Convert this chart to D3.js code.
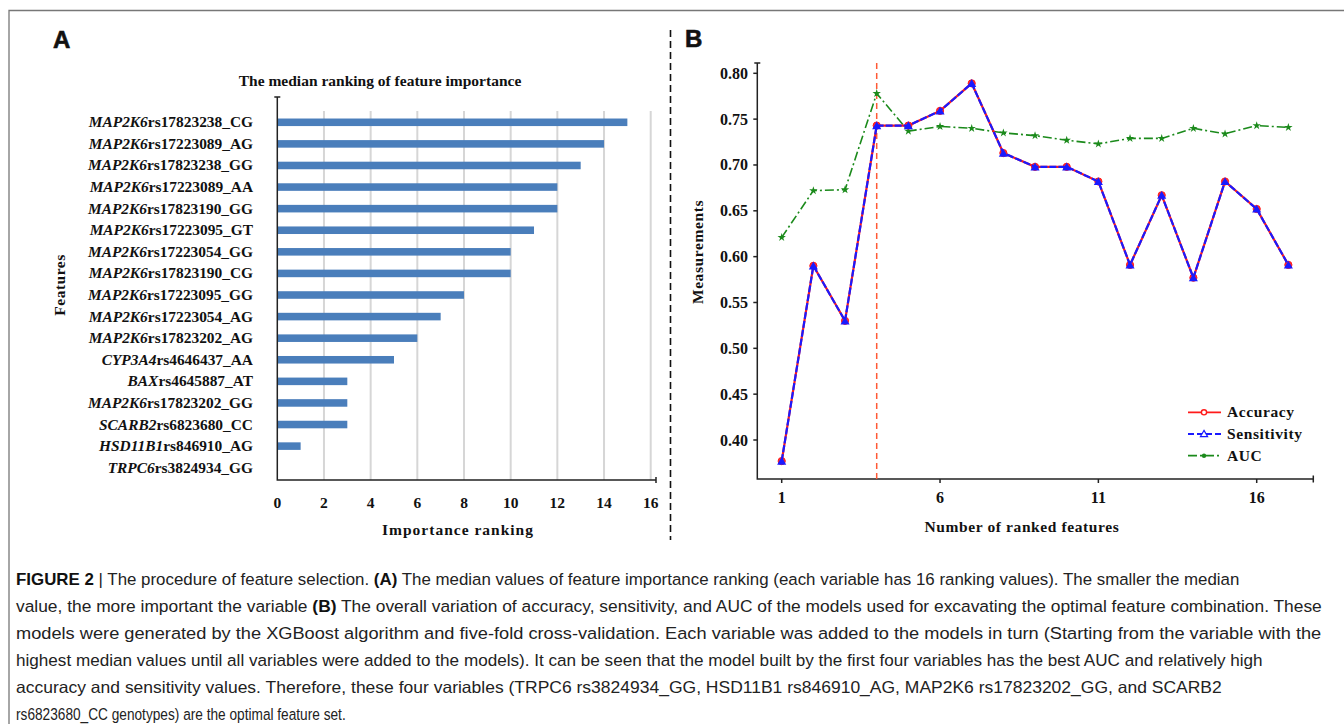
<!DOCTYPE html>
<html>
<head>
<meta charset="utf-8">
<script src="https://cdn.jsdelivr.net/npm/d3@7"></script>
<style>
  body { margin: 0; background: #fff; }
  svg { display: block; }
  .serif { font-family: "Liberation Serif", "Times New Roman", serif; font-weight: bold; fill: #111; }
  .caption { font-family: "Liberation Sans", Arial, sans-serif; font-size: 16.5px; fill: #222; }
</style>
</head>
<body>
<svg id="fig" width="1344" height="724"></svg>
<script>
// ---- panel A data ----
const genes = ['MAP2K6', 'MAP2K6', 'MAP2K6', 'MAP2K6', 'MAP2K6', 'MAP2K6', 'MAP2K6', 'MAP2K6',
  'MAP2K6', 'MAP2K6', 'MAP2K6', 'CYP3A4', 'BAX', 'MAP2K6', 'SCARB2', 'HSD11B1', 'TRPC6'];
const snps = ['rs17823238_CG', 'rs17223089_AG', 'rs17823238_GG', 'rs17223089_AA', 'rs17823190_GG',
  'rs17223095_GT', 'rs17223054_GG', 'rs17823190_CG', 'rs17223095_GG', 'rs17223054_AG',
  'rs17823202_AG', 'rs4646437_AA', 'rs4645887_AT', 'rs17823202_GG', 'rs6823680_CC',
  'rs846910_AG', 'rs3824934_GG'];
const ranking = [15, 14, 13, 12, 12, 11, 10, 10, 8, 7, 6, 5, 3, 3, 3, 1, 0];
const rankTicks = [0, 2, 4, 6, 8, 10, 12, 14, 16];

// ---- panel B data ----
const nFeatures = d3.range(1, 18);
const accuracy = [0.377, 0.590, 0.530, 0.743, 0.743, 0.759, 0.789, 0.713, 0.698, 0.698,
  0.682, 0.591, 0.667, 0.577, 0.682, 0.652, 0.591];
const sensitivity = [0.377, 0.590, 0.530, 0.743, 0.743, 0.759, 0.789, 0.713, 0.698, 0.698,
  0.682, 0.591, 0.667, 0.577, 0.682, 0.652, 0.591];
const auc = [0.621, 0.672, 0.673, 0.778, 0.737, 0.742, 0.740, 0.735, 0.732, 0.727,
  0.723, 0.729, 0.729, 0.740, 0.734, 0.743, 0.741];
const measureTicks = [0.40, 0.45, 0.50, 0.55, 0.60, 0.65, 0.70, 0.75, 0.80];
const featureTicks = [1, 6, 11, 16];
const bestK = 4;

const captionLines = [
  [['b', 'FIGURE 2'], ['n', ' | The procedure of feature selection. '], ['b', '(A)'],
   ['n', ' The median values of feature importance ranking (each variable has 16 ranking values). The smaller the median']],
  [['n', 'value, the more important the variable '], ['b', '(B)'],
   ['n', ' The overall variation of accuracy, sensitivity, and AUC of the models used for excavating the optimal feature combination. These']],
  [['n', 'models were generated by the XGBoost algorithm and five-fold cross-validation. Each variable was added to the models in turn (Starting from the variable with the']],
  [['n', 'highest median values until all variables were added to the models). It can be seen that the model built by the first four variables has the best AUC and relatively high']],
  [['n', 'accuracy and sensitivity values. Therefore, these four variables (TRPC6 rs3824934_GG, HSD11B1 rs846910_AG, MAP2K6 rs17823202_GG, and SCARB2']],
  [['n', 'rs6823680_CC genotypes) are the optimal feature set.']]
];
// right end of each caption line in the reference
const captionEnds = [1240, 1322, 1322, 1264, 1222, 346];

const svg = d3.select('#fig');
svg.append('rect').attr('width', 1344).attr('height', 724).attr('fill', '#fff');

// figure frame (top + left) and panel divider
svg.append('path').attr('d', 'M9,724V10.5H1344').attr('fill', 'none')
  .attr('stroke', '#777').attr('stroke-width', 1.3);
svg.append('line')
  .attr('x1', 670.5).attr('x2', 670.5).attr('y1', 30).attr('y2', 540)
  .attr('stroke', '#111').attr('stroke-width', 1.6).attr('stroke-dasharray', '7,4');

const panelLetter = (x, y, t) => svg.append('text')
  .attr('x', x).attr('y', y)
  .attr('font-family', '"Liberation Sans", Arial, sans-serif')
  .attr('font-weight', 'bold').attr('font-size', 24).attr('fill', '#111')
  .attr('stroke', '#111').attr('stroke-width', 0.6)
  .text(t);
panelLetter(53, 48, 'A');
panelLetter(685, 47, 'B');

// ================= panel A =================
const gA = svg.append('g');
const xA = d3.scaleLinear().domain([0, 16]).range([277.3, 650.7]);
const yA = d3.scaleBand().domain(d3.range(genes.length))
  .range([111.5, 478.5]).paddingInner(0.65).paddingOuter(0.325);
const axisYA = 480;

gA.selectAll('.grid')
  .data(rankTicks.filter(d => d > 0))
  .join('line')
  .attr('class', 'grid')
  .attr('x1', d => xA(d)).attr('x2', d => xA(d))
  .attr('y1', 111).attr('y2', axisYA)
  .attr('stroke', '#d6d6d6').attr('stroke-width', 2);

gA.selectAll('.bar')
  .data(ranking)
  .join('rect')
  .attr('class', 'bar')
  .attr('x', xA(0))
  .attr('y', (d, i) => yA(i))
  .attr('width', d => xA(d) - xA(0))
  .attr('height', yA.bandwidth())
  .attr('fill', '#4a7ebb');

// axes lines
gA.append('path')
  .attr('d', `M${xA(0)},97V${axisYA}H656M656,${axisYA - 3}V${axisYA + 3}M${xA(0) - 3},97H${xA(0) + 3}`)
  .attr('fill', 'none').attr('stroke', '#222').attr('stroke-width', 1.5);

gA.selectAll('.xtA')
  .data(rankTicks)
  .join('text')
  .attr('class', 'serif')
  .attr('x', d => xA(d)).attr('y', 508)
  .attr('text-anchor', 'middle').attr('font-size', 15.5)
  .text(d => d);

const labelsA = gA.selectAll('.ylab')
  .data(genes)
  .join('text')
  .attr('class', 'serif')
  .attr('x', 253)
  .attr('y', (d, i) => yA(i) + yA.bandwidth() / 2 + 5)
  .attr('text-anchor', 'end').attr('font-size', 15.4);
labelsA.append('tspan').attr('font-style', 'italic').text(d => d);
labelsA.append('tspan').text((d, i) => snps[i]);

gA.append('text').attr('class', 'serif')
  .attr('x', 380).attr('y', 86).attr('text-anchor', 'middle').attr('font-size', 15.5)
  .text('The median ranking of feature importance');
gA.append('text').attr('class', 'serif')
  .attr('x', 458).attr('y', 535).attr('text-anchor', 'middle').attr('font-size', 15.5)
  .attr('letter-spacing', 1)
  .text('Importance ranking');
gA.append('text').attr('class', 'serif')
  .attr('transform', 'translate(65,285) rotate(-90)')
  .attr('text-anchor', 'middle').attr('font-size', 15.5).attr('letter-spacing', 0.5)
  .text('Features');

// ================= panel B =================
const gB = svg.append('g');
const xB = d3.scaleLinear().domain([1, 16]).range([781.7, 1256.7]);
const yB = d3.scaleLinear().domain([0.40, 0.80]).range([440, 73.3]);
const axisYB = 479;
const axisXB = 757.3;

gB.append('path')
  .attr('d', `M${axisXB - 3},63H${axisXB + 3}M${axisXB},63V${axisYB}H1313.3M1313.3,${axisYB - 3.5}V${axisYB + 3.5}`)
  .attr('fill', 'none').attr('stroke', '#222').attr('stroke-width', 1.5);

gB.selectAll('.ytick')
  .data(measureTicks)
  .join('line')
  .attr('x1', axisXB - 4).attr('x2', axisXB)
  .attr('y1', d => yB(d)).attr('y2', d => yB(d))
  .attr('stroke', '#222').attr('stroke-width', 1.5);
gB.selectAll('.ytl')
  .data(measureTicks)
  .join('text')
  .attr('class', 'serif')
  .attr('x', 748).attr('y', d => yB(d) + 5.5)
  .attr('text-anchor', 'end').attr('font-size', 16)
  .text(d3.format('.2f'));

gB.selectAll('.xtick')
  .data(featureTicks)
  .join('line')
  .attr('x1', d => xB(d)).attr('x2', d => xB(d))
  .attr('y1', axisYB).attr('y2', axisYB + 4)
  .attr('stroke', '#222').attr('stroke-width', 1.5);
gB.selectAll('.xtl')
  .data(featureTicks)
  .join('text')
  .attr('class', 'serif')
  .attr('x', d => xB(d)).attr('y', 502.5)
  .attr('text-anchor', 'middle').attr('font-size', 16)
  .text(d => d);

gB.append('text').attr('class', 'serif')
  .attr('x', 1022).attr('y', 532).attr('text-anchor', 'middle').attr('font-size', 15.5)
  .attr('letter-spacing', 0.6)
  .text('Number of ranked features');
gB.append('text').attr('class', 'serif')
  .attr('transform', 'translate(703,252) rotate(-90)')
  .attr('text-anchor', 'middle').attr('font-size', 15.5).attr('letter-spacing', 0.6)
  .text('Measurements');

// optimal feature count marker
gB.append('line')
  .attr('x1', xB(bestK)).attr('x2', xB(bestK))
  .attr('y1', 63).attr('y2', axisYB)
  .attr('stroke', '#ff5a36').attr('stroke-width', 1.5).attr('stroke-dasharray', '6,4');

const lineB = vals => d3.line().x((d, i) => xB(nFeatures[i])).y(d => yB(d))(vals);
const aucColor = '#1b8a1b';

gB.append('path').attr('d', lineB(auc))
  .attr('fill', 'none').attr('stroke', aucColor).attr('stroke-width', 1.6)
  .attr('stroke-dasharray', '9,3,2,3');
gB.selectAll('.aucpt')
  .data(auc)
  .join('path')
  .attr('transform', (d, i) => `translate(${xB(nFeatures[i])},${yB(d)})`)
  .attr('d', d3.symbol(d3.symbolStar, 22))
  .attr('fill', aucColor);

gB.append('path').attr('d', lineB(accuracy))
  .attr('fill', 'none').attr('stroke', '#ff1a1a').attr('stroke-width', 2.2);
gB.selectAll('.accpt')
  .data(accuracy)
  .join('circle')
  .attr('cx', (d, i) => xB(nFeatures[i])).attr('cy', d => yB(d))
  .attr('r', 3.6).attr('fill', '#ff3030').attr('stroke', '#ff1a1a');

gB.append('path').attr('d', lineB(sensitivity))
  .attr('fill', 'none').attr('stroke', '#1a1aff').attr('stroke-width', 2.2)
  .attr('stroke-dasharray', '7,2');
gB.selectAll('.senpt')
  .data(sensitivity)
  .join('path')
  .attr('transform', (d, i) => `translate(${xB(nFeatures[i])},${yB(d) + 1})`)
  .attr('d', d3.symbol(d3.symbolTriangle, 36))
  .attr('fill', '#1a1aff');

// legend
const legend = [
  { name: 'Accuracy', color: '#ff1a1a', dash: null, mark: 'circle' },
  { name: 'Sensitivity', color: '#1a1aff', dash: '6,3', mark: 'triangle' },
  { name: 'AUC', color: aucColor, dash: '9,3,2,3', mark: 'dot' }
];
const gL = gB.selectAll('.leg')
  .data(legend)
  .join('g')
  .attr('transform', (d, i) => `translate(1188,${412.3 + i * 21.7})`);
gL.append('line')
  .attr('x1', 0).attr('x2', 33)
  .attr('stroke', d => d.color).attr('stroke-width', 1.8)
  .attr('stroke-dasharray', d => d.dash);
gL.filter(d => d.mark === 'circle').append('circle')
  .attr('cx', 16).attr('r', 2.6).attr('fill', '#fff').attr('stroke', d => d.color).attr('stroke-width', 1.4);
gL.filter(d => d.mark === 'triangle').append('path')
  .attr('transform', 'translate(16,0.5)')
  .attr('d', d3.symbol(d3.symbolTriangle, 22))
  .attr('fill', '#fff').attr('stroke', d => d.color).attr('stroke-width', 1.2);
gL.filter(d => d.mark === 'dot').append('circle')
  .attr('cx', 16).attr('r', 2.2).attr('fill', d => d.color);
gL.append('text').attr('class', 'serif')
  .attr('x', 39).attr('y', 5).attr('font-size', 15.5).attr('letter-spacing', 0.6)
  .text(d => d.name);

// ================= caption =================
// each line is stretched horizontally to span the same width as in the figure
const cap = svg.append('g');
captionLines.forEach((parts, i) => {
  const row = cap.append('g');
  const t = row.append('text').attr('class', 'caption').attr('x', 0).attr('y', 0);
  parts.forEach(p => {
    t.append('tspan')
      .attr('font-weight', p[0] === 'b' ? 'bold' : null)
      .attr('fill', p[0] === 'b' ? '#111' : null)
      .text(p[1]);
  });
  const k = (captionEnds[i] - 16) / t.node().getComputedTextLength();
  row.attr('transform', `translate(16,${585 + i * 27}) scale(${k},1)`);
});
</script>
</body>
</html>
